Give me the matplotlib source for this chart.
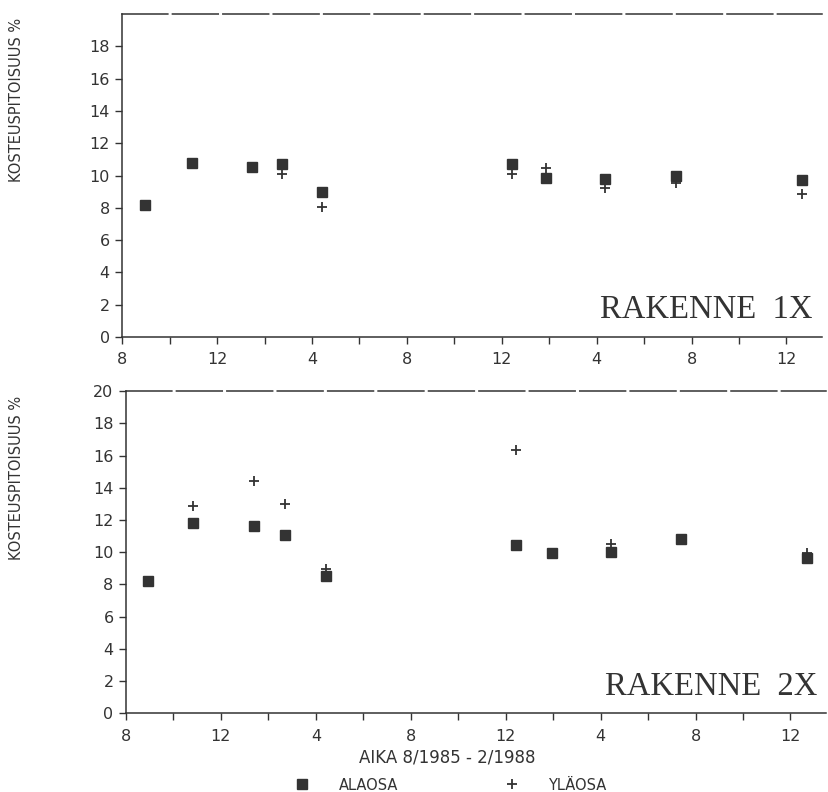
import matplotlib
matplotlib.use("Agg")
import matplotlib.pyplot as plt
from matplotlib.lines import Line2D

# ---- data (month index: 0 = 8/1985) ----
month_ticks = [0, 4, 8, 12, 16, 20, 24, 28]
month_labels = ["8", "12", "4", "8", "12", "4", "8", "12"]
minor_ticks = [2, 6, 10, 14, 18, 22, 26]

months_1x = [0.96, 2.92, 5.48, 6.72, 8.44, 16.43, 17.88, 20.37, 23.36, 28.67]
alaosa_1x = [8.2, 10.8, 10.55, 10.69, 8.98, 10.69, 9.86, 9.8, 10.0, 9.72]
ylaosa_1x = [8.1, 10.8, 10.5, 10.1, 8.06, 10.07, 10.44, 9.21, 9.52, 8.84]

months_2x = [0.94, 2.84, 5.39, 6.69, 8.42, 16.42, 17.94, 20.44, 23.4, 28.7]
alaosa_2x = [8.24, 11.8, 11.63, 11.06, 8.55, 10.45, 9.94, 10.04, 10.85, 9.63]
ylaosa_2x = [8.2, 12.88, 14.43, 13.0, 8.94, 16.35, 9.9, 10.5, 10.8, 9.94]

yticks_top = [0, 2, 4, 6, 8, 10, 12, 14, 16, 18]
yticks_bottom = [0, 2, 4, 6, 8, 10, 12, 14, 16, 18, 20]

titles = ["RAKENNE  1X", "RAKENNE  2X"]
ylabel = "KOSTEUSPITOISUUS %"
xlabel = "AIKA 8/1985 - 2/1988"
legend_labels = ["ALAOSA", "YLÄOSA"]

INK = "#333333"
SANS = ["DejaVu Sans"]
SERIF = ["Liberation Serif", "DejaVu Serif"]

fig = plt.figure(figsize=(8.29, 7.92), dpi=100)
fig.patch.set_facecolor("white")

ax1 = fig.add_axes([0.1475, 0.5745, 0.844, 0.4078])
ax2 = fig.add_axes([0.152, 0.0994, 0.8444, 0.4066])

panels = [
    (ax1, months_1x, alaosa_1x, ylaosa_1x, yticks_top, titles[0]),
    (ax2, months_2x, alaosa_2x, ylaosa_2x, yticks_bottom, titles[1]),
]

for ax, mx, ala, yla, yt, title in panels:
    ax.plot(mx, yla, linestyle="none", marker="+", markersize=7,
            markeredgewidth=1.3, color=INK, zorder=2)
    ax.plot(mx, ala, linestyle="none", marker="s", markersize=6.5,
            color=INK, markeredgecolor=INK, zorder=3)
    ax.set_xlim(0, 29.5)
    ax.set_ylim(0, 20)
    ax.set_xticks(month_ticks)
    ax.set_xticklabels(month_labels, family=SANS, fontsize=11.5, color=INK)
    ax.set_xticks(minor_ticks, minor=True)
    ax.set_yticks(yt)
    ax.set_yticklabels([str(v) for v in yt], family=SANS, fontsize=11.5, color=INK)
    ax.tick_params(axis="x", which="both", direction="out", length=5,
                   width=1.0, color=INK, pad=6)
    ax.tick_params(axis="y", which="both", direction="out", length=5,
                   width=1.0, color=INK, pad=4)
    for s in ["left", "bottom", "top"]:
        ax.spines[s].set_color(INK)
        ax.spines[s].set_linewidth(1.1)
    ax.spines["right"].set_visible(False)
    ax.spines["top"].set_linestyle((0, (30, 3)))
    ax.text(0.987, 0.058, title, transform=ax.transAxes, ha="right",
            va="baseline", family=SERIF, fontsize=23.5, color=INK)

fig.text(0.0205, 1 - 182 / 792, ylabel, rotation=90, ha="center", va="bottom",
         family=SANS, fontsize=10.5, color=INK)
fig.text(0.0205, 1 - 560 / 792, ylabel, rotation=90, ha="center", va="bottom",
         family=SANS, fontsize=10.5, color=INK)

fig.text(447 / 829, 1 - 758 / 792, xlabel, ha="center", va="center",
         family=SANS, fontsize=12, color=INK)

handles = [
    Line2D([], [], linestyle="none", marker="s", markersize=6.5, color=INK),
    Line2D([], [], linestyle="none", marker="+", markersize=7,
           markeredgewidth=1.3, color=INK),
]
fig.legend(handles, legend_labels, ncol=2, loc="center",
           bbox_to_anchor=(447 / 829, 1 - 785 / 792), frameon=False,
           prop={"family": SANS, "size": 10.5}, labelcolor=INK,
           handletextpad=1.5, columnspacing=6.8, handlelength=2.0,
           borderpad=0.0)

fig.savefig("out.png", dpi=100, facecolor="white")
